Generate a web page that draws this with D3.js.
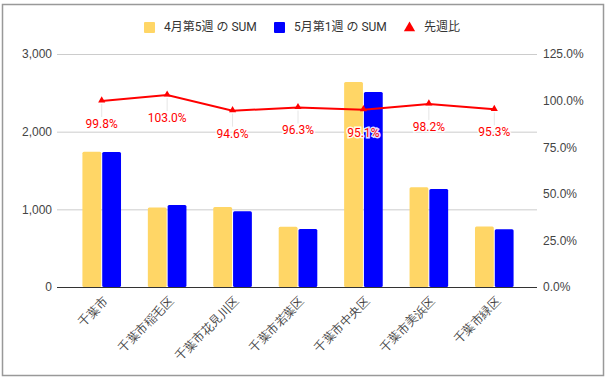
<!DOCTYPE html>
<html><head><meta charset="utf-8">
<script src="https://cdn.jsdelivr.net/npm/d3@7"></script>
<style>
body{margin:0;background:#fff;}
svg{font-family:Roboto,"Noto Sans CJK JP",Arial,sans-serif;}
</style></head>
<body><svg id="c" width="612" height="383"></svg>
<script>
const categories = ["千葉市","千葉市稲毛区","千葉市花見川区","千葉市若葉区","千葉市中央区","千葉市美浜区","千葉市緑区"];
const seriesNames = ["4月第5週 の SUM","5月第1週 の SUM","先週比"];
const aprW5 = [1740, 1025, 1030, 775, 2640, 1285, 780];
const mayW1 = [1737, 1056, 974, 746, 2511, 1262, 743];
const ratio = [0.998, 1.030, 0.946, 0.963, 0.951, 0.982, 0.953];
const leftTicks = [0, 1000, 2000, 3000];
const rightTicks = [0, 0.25, 0.5, 0.75, 1.0, 1.25];
const colors = ["#ffd666", "#0000ff", "#ff0000"];

const svg = d3.select("#c");
svg.append("rect").attr("x",2.5).attr("y",4.5).attr("width",601).attr("height",371)
  .attr("fill","#fff").attr("stroke","#999").attr("stroke-width",1.5);

const gx0 = 57, gx1 = 537, yTop = 54, yBot = 287;
const x = d3.scaleBand().domain(categories).range([69, 527]).paddingInner(0.41).paddingOuter(0.205);
const xs = d3.scaleBand().domain([0,1]).range([0, x.bandwidth()]).paddingInner(0.05);
const yL = d3.scaleLinear().domain([0,3000]).range([yBot, yTop]);
const yR = d3.scaleLinear().domain([0,1.25]).range([yBot, yTop]);

// gridlines
const gl = d3.axisLeft(yL).tickValues(leftTicks).tickSize(-(gx1-gx0)).tickFormat(d3.format(","));
const gAxL = svg.append("g").attr("transform",`translate(${gx0},0)`).call(gl);
gAxL.select(".domain").remove();
gAxL.selectAll(".tick line").attr("stroke",(d)=>d===0?"#333":"#ccc").attr("stroke-width",1);
gAxL.selectAll(".tick text").attr("x",-5).attr("fill","#444").style("font-size","12px").style("font-family","Arial,Liberation Sans,sans-serif");

const ar = d3.axisRight(yR).tickValues(rightTicks).tickSize(0).tickFormat(d3.format(".1%"));
const gAxR = svg.append("g").attr("transform",`translate(${gx1},0)`).call(ar);
gAxR.select(".domain").remove();
gAxR.selectAll(".tick text").attr("x",6).attr("fill","#444").style("font-size","12px").style("font-family","Arial,Liberation Sans,sans-serif");

// bars
const series = [aprW5, mayW1];
series.forEach((vals, si) => {
  svg.append("g").selectAll("rect").data(vals).join("rect")
    .attr("x",(d,i)=>x(categories[i]) + xs(si))
    .attr("y",d=>yL(d))
    .attr("width",xs.bandwidth())
    .attr("height",d=>yBot - yL(d))
    .attr("rx",1.5)
    .attr("fill",colors[si]);
});
// redraw baseline on top
svg.append("line").attr("x1",gx0).attr("x2",gx1).attr("y1",yBot+0.5).attr("y2",yBot+0.5).attr("stroke","#333");

// x labels
const ax = d3.axisBottom(x).tickSize(0);
const gX = svg.append("g").attr("transform",`translate(0,${yBot})`).call(ax);
gX.select(".domain").remove();
gX.selectAll(".tick text")
  .attr("fill","#444").style("font-size","12px")
  .attr("text-anchor","end")
  .attr("dy","0.35em").attr("y",0)
  .attr("transform","translate(4,12) rotate(-45)");

// line
const cx = i => x(categories[i]) + x.bandwidth()/2;
// stems
svg.append("g").selectAll("line").data(ratio).join("line")
  .attr("x1",(d,i)=>cx(i)).attr("x2",(d,i)=>cx(i))
  .attr("y1",d=>yR(d)+3).attr("y2",d=>yR(d)+16)
  .attr("stroke","#e6e6e6").attr("stroke-width",1);
svg.append("path").datum(ratio)
  .attr("d", d3.line().x((d,i)=>cx(i)).y(d=>yR(d)))
  .attr("fill","none").attr("stroke",colors[2]).attr("stroke-width",2);
const tri = d3.symbol().type(d3.symbolTriangle).size(22);
svg.append("g").selectAll("path").data(ratio).join("path")
  .attr("d",tri).attr("transform",(d,i)=>`translate(${cx(i)},${yR(d)-0.5})`)
  .attr("fill",colors[2]);
svg.append("g").selectAll("text").data(ratio).join("text")
  .attr("x",(d,i)=>cx(i)).attr("y",d=>yR(d)+27)
  .attr("text-anchor","middle").attr("fill",colors[2])
  .style("font-size","12px")
  .attr("stroke","#fff").attr("stroke-width",3).attr("paint-order","stroke").attr("stroke-opacity",0.9)
  .text(d=>d3.format(".1%")(d));

// legend
const leg = svg.append("g").attr("transform","translate(0,27)");
const legX = [144, 274, 404];
seriesNames.forEach((n,i)=>{
  const g = leg.append("g").attr("transform",`translate(${legX[i]},0)`);
  if(i<2) g.append("rect").attr("x",0).attr("y",-5).attr("width",11).attr("height",11).attr("rx",1).attr("fill",colors[i]);
  else g.append("path").attr("d",d3.symbol().type(d3.symbolTriangle).size(55)).attr("transform","translate(5.5,1)").attr("fill",colors[i]);
  g.append("text").attr("x",20).attr("y",0).attr("dy","0.35em").attr("fill","#333").style("font-size","12px").text(n);
});
</script></body></html>
